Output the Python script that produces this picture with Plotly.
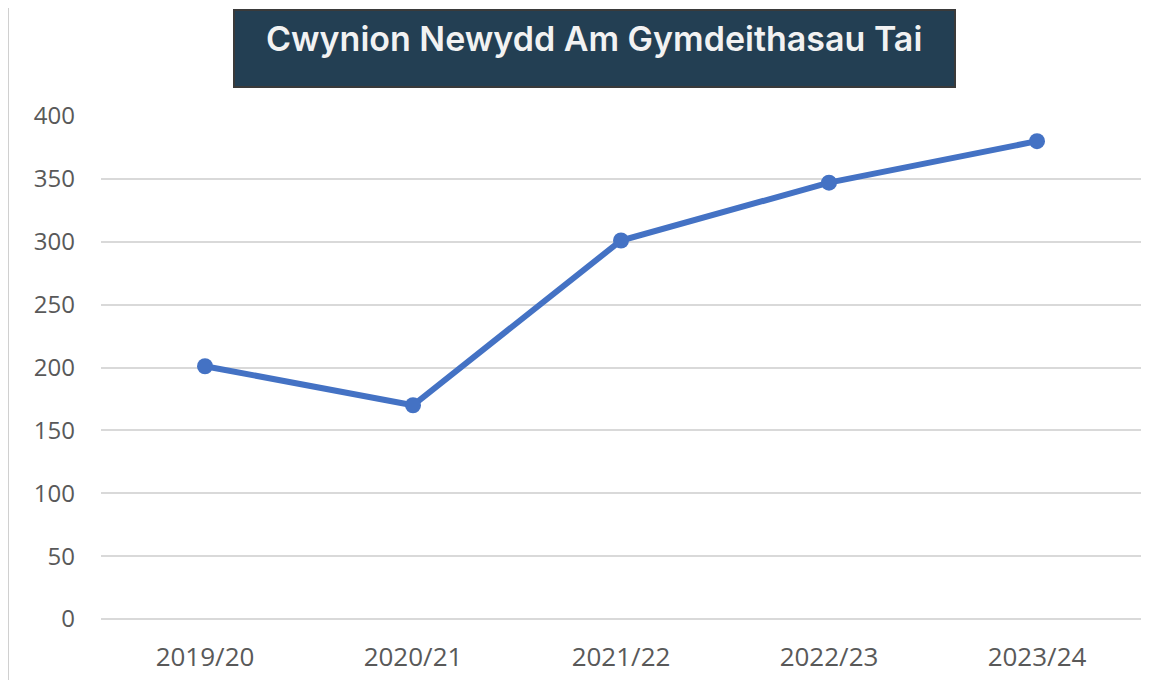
import plotly.graph_objects as go

years = ["2019/20", "2020/21", "2021/22", "2022/23", "2023/24"]
complaints = [201, 170, 301, 347, 380]
y_ticks = [0, 50, 100, 150, 200, 250, 300, 350, 400]
title_text = "Cwynion Newydd Am Gymdeithasau Tai"

OFF = 8  # page body margin offset
W, H = 1164, 689
# desired page-pixel plot box
PL, PR, PT, PB = 101, 1141, 116, 619
L = PL - OFF
T = PT - OFF
R = W - (PR - OFF)
B = H - (PB - OFF)
pw, ph = PR - PL, PB - PT

def px_x(p):
    return (p - PL) / pw

def px_y(p):
    return (PB - p) / ph

fig = go.Figure()
fig.add_trace(go.Scatter(
    x=years, y=complaints, mode="lines+markers",
    line=dict(color="#4472c4", width=6),
    marker=dict(color="#4472c4", size=16),
    cliponaxis=False, showlegend=False,
))

fig.update_layout(
    width=W, height=H,
    margin=dict(l=L, r=R, t=T, b=B),
    paper_bgcolor="white", plot_bgcolor="white",
    font=dict(family="Open Sans, sans-serif", color="#595959", size=17),
    xaxis=dict(type="category", range=[-0.5, len(years) - 0.5],
               showgrid=False, showline=False, ticks="", ticklabelstandoff=20,
               tickfont=dict(family="Open Sans, sans-serif", size=26, color="#595959")),
    yaxis=dict(range=[0, 400], tickvals=y_ticks, showgrid=True,
               gridcolor="#d9d9d9", gridwidth=2,
               zeroline=True, zerolinecolor="#d9d9d9", zerolinewidth=2,
               showline=False, ticks="", ticklabelstandoff=25,
               tickfont=dict(family="Open Sans, sans-serif", size=24, color="#595959")),
    shapes=[
        dict(type="rect", xref="paper", yref="paper",
             x0=px_x(234), x1=px_x(955), y0=px_y(87), y1=px_y(10),
             fillcolor="#233f53", line=dict(color="#3a3a3a", width=2), layer="above"),
        dict(type="line", xref="paper", yref="paper",
             x0=px_x(8), x1=px_x(8), y0=px_y(680), y1=px_y(0),
             line=dict(color="#d0d0d0", width=2)),
    ],
    annotations=[
        dict(text=title_text, xref="paper", yref="paper",
             x=px_x(594), y=px_y(38), xanchor="center", yanchor="middle",
             showarrow=False,
             font=dict(family="Inter, sans-serif", size=34, weight=600,
                       color="#f2f2f2")),
    ],
)

fig.write_html("out.html")
